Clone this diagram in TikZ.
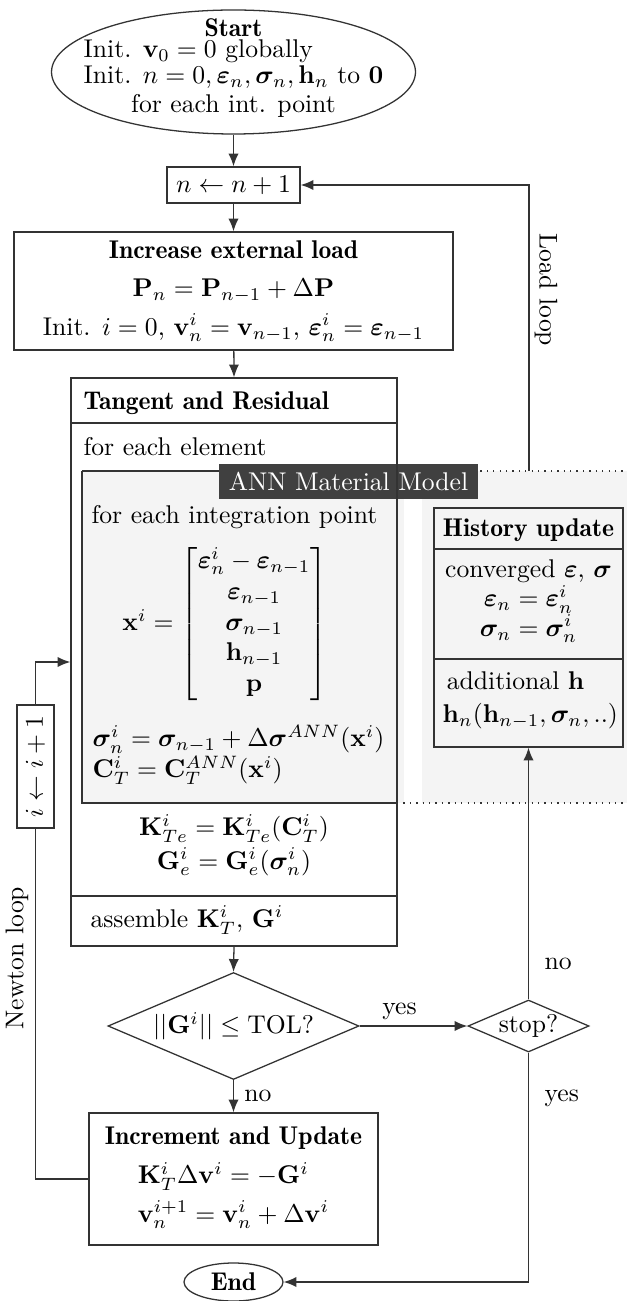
\documentclass[tikz,border=0pt]{standalone}
\usepackage{amsmath}
\usepackage{bm}
\usetikzlibrary{shapes.geometric,arrows.meta}
\definecolor{annfill}{gray}{0.955}
\definecolor{anndark}{gray}{0.25}
\definecolor{linegray}{gray}{0.2}
\newcommand{\unidad}{0.39pt}
\newcommand{\titulo}[1]{{\fontseries{b}\selectfont #1}}

\begin{document}
\begin{tikzpicture}[x=\unidad, y=\unidad,
    box/.style={draw=linegray, line width=0.5pt, inner sep=2pt, align=center},
    cond/.style={diamond, draw=linegray, line width=0.5pt, inner sep=0pt},
    term/.style={ellipse, draw=linegray, line width=0.5pt, inner sep=0pt, align=center},
    flow/.style={draw=linegray, line width=0.5pt, -{Latex[length=5pt,width=4pt]}},
    txt/.style={inner sep=0pt, align=center}
]
    % Marco con las proporciones de la figura
    \useasboundingbox (0,0) rectangle (627,-1301);

    % 1. Inicio
    \node[term, minimum width=364*\unidad, minimum height=124*\unidad] (start) at (233.5,-72) {};
    \node[txt, font=\fontsize{10}{10.6}\selectfont] (starttxt) at (233.5,-68) {\titulo{Start}\\
        \renewcommand{\arraystretch}{0.95}%
        \begin{tabular}{@{}l@{}}Init. $\mathbf{v}_0=0$ globally\\
        Init. $n=0, \bm{\varepsilon}_n, \bm{\sigma}_n, \mathbf{h}_n$ to $\mathbf{0}$\end{tabular}\\
        for each int. point};

    % 2. Contador de carga y carga externa
    \node[box, minimum width=133*\unidad, minimum height=36*\unidad] (nup) at (233.5,-185) {$n \leftarrow n+1$};
    \node[box, minimum width=439*\unidad, minimum height=118*\unidad] (load) at (233.5,-291)
        {\titulo{Increase external load}\\[3pt]
         $\mathbf{P}_n=\mathbf{P}_{n-1}+\Delta\mathbf{P}$\\[3pt]
         Init. $i=0$, $\mathbf{v}_n^i=\mathbf{v}_{n-1}$, $\bm{\varepsilon}_n^i=\bm{\varepsilon}_{n-1}$};

    % 3. Zona del modelo ANN (fondo gris y bordes)
    \fill[annfill] (82,-471) rectangle (404,-803);
    \fill[annfill] (422,-471) rectangle (627,-803);
    \draw[linegray, line width=0.9pt] (397,-471) -- (82,-471);
    \draw[linegray, line width=0.5pt] (82,-471) -- (82,-803) -- (397,-803);
    \draw[linegray, line width=0.5pt, dotted] (397,-471) -- (627,-471) (397,-803) -- (627,-803);
    \node[fill=anndark, draw=anndark, text=white, inner sep=0pt,
          minimum width=257*\unidad, minimum height=33*\unidad] (annlbl) at (348.5,-481.5) {ANN Material Model};

    % 4. Tangente y residuo
    \node[draw=linegray, line width=0.5pt, inner sep=0pt,
          minimum width=326*\unidad, minimum height=568*\unidad] (tang) at (234,-662) {};
    \draw[linegray, line width=0.5pt] (71,-423) -- (397,-423) (71,-896) -- (397,-896);
    \node[txt, anchor=west] (ttitle) at (83,-403) {\titulo{Tangent and Residual}};
    \node[txt, anchor=west] (telem) at (83,-447) {for each element};
    \node[txt, anchor=west] (tint) at (91,-517) {for each integration point};
    \node[txt] (xvec) at (225,-624) {$\mathbf{x}^i=\begin{bmatrix}
        \bm{\varepsilon}_n^i-\bm{\varepsilon}_{n-1}\\ \bm{\varepsilon}_{n-1}\\
        \bm{\sigma}_{n-1}\\ \mathbf{h}_{n-1}\\ \mathbf{p}\end{bmatrix}$};
    \node[txt, anchor=west, align=left] (tsig) at (92,-755)
        {$\bm{\sigma}_n^i=\bm{\sigma}_{n-1}+\Delta\bm{\sigma}^{ANN}(\mathbf{x}^i)$\\[0pt]
         $\mathbf{C}_T^i=\mathbf{C}_T^{ANN}(\mathbf{x}^i)$};
    \node[txt] (tke) at (234,-845) {$\mathbf{K}_{Te}^i=\mathbf{K}_{Te}^i(\mathbf{C}_T^i)$\\[1pt]
        $\mathbf{G}_e^i=\mathbf{G}_e^i(\bm{\sigma}_n^i)$};
    \node[txt, anchor=west] (tasm) at (90,-920) {assemble $\mathbf{K}_T^i$, $\mathbf{G}^i$};

    % 5. Actualizacion de la historia
    \node[draw=linegray, line width=0.5pt, fill=annfill, inner sep=0pt,
          minimum width=189*\unidad, minimum height=239*\unidad] (hist) at (528.5,-627.5) {};
    \draw[linegray, line width=0.5pt] (434,-549) -- (623,-549) (434,-659) -- (623,-659);
    \node[txt] (htitle) at (528.5,-530) {\titulo{History update}};
    \node[txt, font=\fontsize{10}{11.5}\selectfont] (hconv) at (528.5,-601) {converged $\bm{\varepsilon}$, $\bm{\sigma}$\\
        $\bm{\varepsilon}_n=\bm{\varepsilon}_n^i$\\ $\bm{\sigma}_n=\bm{\sigma}_n^i$};
    \node[txt, anchor=west, align=left] (hadd) at (442,-700) {\,additional $\mathbf{h}$\\[1pt]
        $\mathbf{h}_n(\mathbf{h}_{n-1},\bm{\sigma}_n,..)$};

    % 6. Convergencia, parada, incremento y fin
    \node[cond, aspect=2.35, minimum width=251*\unidad, minimum height=107*\unidad] (dec) at (233.5,-1026)
        {$||\mathbf{G}^i||\leq\mathrm{TOL}?$};
    \node[cond, aspect=2.33, minimum width=121*\unidad, minimum height=52*\unidad] (stop) at (528.5,-1026) {stop?};
    \node[box, minimum width=289*\unidad, minimum height=132*\unidad] (upd) at (233.5,-1179)
        {\titulo{Increment and Update}\\[4pt]
         \begin{tabular}{@{}l@{}}$\mathbf{K}_T^i\Delta\mathbf{v}^i=-\mathbf{G}^i$\\[3pt]
         $\mathbf{v}_n^{i+1}=\mathbf{v}_n^i+\Delta\mathbf{v}^i$\end{tabular}};
    \node[term, minimum width=99*\unidad, minimum height=38*\unidad] (fin) at (233.5,-1282) {\titulo{End}};
    \node[box, rotate=90, inner sep=1pt, minimum width=123*\unidad, minimum height=37*\unidad] (iup) at (35.5,-766.5)
        {$i\leftarrow i+1$};

    % 7. Conectores
    \coordinate (annright) at (529,-471);
    \draw[flow] (start) -- (nup);
    \draw[flow] (nup) -- (load);
    \draw[flow] (load) -- (tang.north);
    \draw[flow] (tang.south) -- (dec.north);
    \draw[flow] (dec) -- node[pos=0.37, above=2pt, inner sep=0pt] (yes1) {yes} (stop);
    \draw[flow] (dec) -- node[right=4pt, inner sep=0pt] (no1) {no} (upd);
    \draw[flow] (stop) -- node[pos=0.14, right=6pt, inner sep=0pt] (no2) {no} (hist);
    \draw[flow] (stop) |- node[pos=0.1, right=6pt, inner sep=0pt] (yes2) {yes} (fin);
    \draw[flow] (annright) |- (nup);
    \draw[linegray, line width=0.5pt] (upd.west) -| (iup.west);
    \draw[flow] (iup.east) |- (tang.west);

    % 8. Etiquetas de los lazos
    \node[rotate=-90, inner sep=0pt] (lloop) at (546,-290) {Load loop};
    \node[rotate=90, inner sep=0pt] (nloop) at (17,-958) {Newton loop};

\end{tikzpicture}
\end{document}
